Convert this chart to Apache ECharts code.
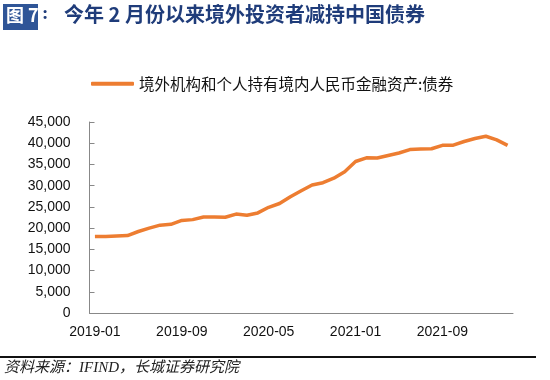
<!DOCTYPE html>
<html>
<head>
<meta charset="utf-8">
<script src="https://cdn.jsdelivr.net/npm/echarts@6/dist/echarts.min.js"></script>
<style>
html,body{margin:0;padding:0;background:#fff;}
#c{width:550px;height:380px;}
</style>
</head>
<body>
<div id="c"></div>
<script>
var seriesName = '境外机构和个人持有境内人民币金融资产:债券';
var months = [
 '2019-01','2019-02','2019-03','2019-04','2019-05','2019-06','2019-07','2019-08','2019-09','2019-10','2019-11','2019-12',
 '2020-01','2020-02','2020-03','2020-04','2020-05','2020-06','2020-07','2020-08','2020-09','2020-10','2020-11','2020-12',
 '2021-01','2021-02','2021-03','2021-04','2021-05','2021-06','2021-07','2021-08','2021-09','2021-10','2021-11','2021-12',
 '2022-01','2022-02','2022-03'
];
var bondHoldings = [
 18000,18050,18150,18250,19200,20000,20700,20900,21800,22000,22600,22600,
 22550,23300,23050,23580,24900,25800,27400,28800,30150,30700,31750,33300,
 35700,36550,36500,37100,37700,38500,38650,38700,39500,39550,40400,41100,
 41650,40800,39500
];
var yTicks = {min:0, max:45000, interval:5000};
var titleBox = '图 7';
var titleColon = ':';
var titleText = '今年 2 月份以来境外投资者减持中国债券';
var sourceText = '资料来源：IFIND，长城证券研究院';

var chart = echarts.init(document.getElementById('c'), null, {renderer:'canvas'});
var axisFont = 'Liberation Sans, Arial, sans-serif';
chart.setOption({
  backgroundColor:'#fff',
  animation:false,
  graphic:[
    {type:'rect', left:3, top:4, shape:{width:35, height:26}, style:{fill:'#2F5597'}},
    {type:'text', left:6, top:6, style:{text:titleBox, fill:'#fff', font:'bold 18px "Noto Sans CJK SC", serif'}},
    {type:'text', left:42, top:5, style:{text:titleColon, fill:'#1F3C7A', font:'bold 19px "Liberation Serif", serif'}},
    {type:'text', left:64, top:4, style:{text:titleText, fill:'#1F3C7A', font:'bold 20px "Noto Sans CJK SC", serif'}},
    {type:'rect', left:0, top:356, shape:{width:536, height:2}, style:{fill:'#111'}},
    {type:'text', left:4, top:361, style:{text:sourceText, fill:'#222', font:'italic 15px "Liberation Serif", "Noto Sans CJK SC", serif'}}
  ],
  legend:{
    top:71, left:86, padding:5,
    itemWidth:43, itemHeight:4, itemGap:5,
    icon:'roundRect',
    textStyle:{fontSize:15.5, color:'#111', fontFamily:'"Noto Sans CJK SC", sans-serif'},
    data:[seriesName]
  },
  grid:{left:89.5, right:37, top:122, bottom:67, containLabel:false},
  xAxis:{
    type:'category',
    data:months,
    boundaryGap:true,
    axisLine:{lineStyle:{color:'#888', width:1}},
    axisTick:{inside:true, length:5, interval:7, lineStyle:{color:'#888'}},
    axisLabel:{interval:7, fontSize:14, color:'#111', fontFamily:axisFont, margin:12}
  },
  yAxis:{
    type:'value',
    min:yTicks.min, max:yTicks.max, interval:yTicks.interval,
    splitLine:{show:false},
    axisLine:{show:true, lineStyle:{color:'#888', width:1}},
    axisTick:{show:true, inside:true, length:5, lineStyle:{color:'#888'}},
    axisLabel:{fontSize:14, color:'#111', fontFamily:axisFont, margin:19,
      formatter:function(v){return v.toLocaleString('en-US');}}
  },
  series:[{
    name:seriesName,
    type:'line',
    data:bondHoldings,
    symbol:'none',
    lineStyle:{color:'#ED7D31', width:3.5},
    itemStyle:{color:'#ED7D31'}
  }]
});
</script>
</body>
</html>
